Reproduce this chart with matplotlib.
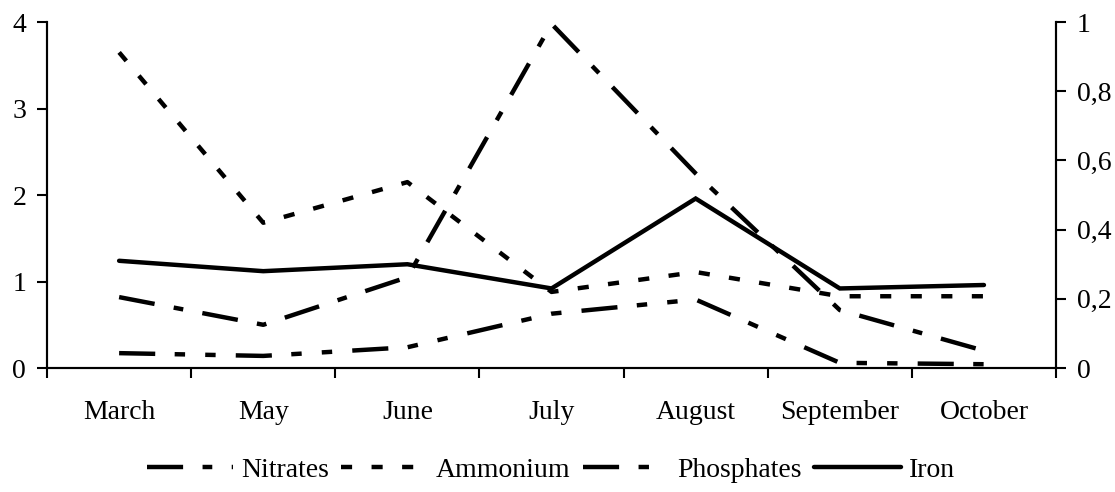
import numpy as np
import matplotlib
matplotlib.use("Agg")
import matplotlib.pyplot as plt
from matplotlib.ticker import FixedLocator, NullFormatter

plt.rcParams['font.family'] = ['Liberation Serif', 'DejaVu Serif']
plt.rcParams['lines.scale_dashes'] = False

months = ['March', 'May', 'June', 'July', 'August', 'September', 'October']
# left axis
nitrates = [0.82, 0.50, 1.05, 3.98, 2.25, 0.67, 0.20]
ammonium = [3.65, 1.68, 2.15, 0.88, 1.11, 0.83, 0.83]
# right axis
phosphates = [0.043, 0.035, 0.06, 0.157, 0.198, 0.015, 0.011]
iron = [0.31, 0.28, 0.30, 0.23, 0.49, 0.23, 0.24]

left_ticks = [0, 1, 2, 3, 4]
right_ticks = [0, 0.2, 0.4, 0.6, 0.8, 1]
right_labels = ['0', '0,2', '0,4', '0,6', '0,8', '1']

fs = 20
lw = 3.2

fig = plt.figure(figsize=(11.15, 4.92), dpi=100)
ax = fig.add_axes([0.0422, 0.252, 0.9049, 0.703])
ax2 = ax.twinx()

x = np.arange(len(months))

l1, = ax.plot(x, nitrates, color='black', lw=lw, dashes=(26, 14, 7, 14))
l2, = ax.plot(x, ammonium, color='black', lw=lw, dashes=(8, 14))
l3, = ax2.plot(x, phosphates, color='black', lw=lw, dashes=(26, 14, 7.5, 14.5, 7.5, 14.5))
l4, = ax2.plot(x, iron, color='black', lw=lw, solid_capstyle='round', solid_joinstyle='miter')

ax.set_xlim(-0.5, len(months) - 0.5)
ax.set_ylim(0, 4)
ax2.set_ylim(0, 1)

# category boundaries as tick marks, labels at centres
ax.xaxis.set_major_locator(FixedLocator(np.arange(-0.5, len(months))))
ax.xaxis.set_major_formatter(NullFormatter())
ax.xaxis.set_minor_locator(FixedLocator(x))
ax.set_xticklabels(months, minor=True)
ax.tick_params(axis='x', which='major', direction='out', length=7, width=1.5)
ax.tick_params(axis='x', which='minor', length=0, pad=23, labelsize=fs)

ax.set_yticks(left_ticks)
ax.set_yticklabels([str(t) for t in left_ticks])
ax.tick_params(axis='y', direction='out', length=7, width=1.5, pad=8, labelsize=fs)

ax2.set_yticks(right_ticks)
ax2.set_yticklabels(right_labels)
ax2.tick_params(axis='y', direction='out', length=7, width=1.5, pad=8, labelsize=fs)

for a in (ax, ax2):
    a.spines['top'].set_visible(False)
    for s in ('left', 'right', 'bottom'):
        a.spines[s].set_linewidth(1.5)

fig.legend([l1, l2, l3, l4], ['Nitrates', 'Ammonium', 'Phosphates', 'Iron'],
           loc='center', bbox_to_anchor=(0.494, 0.045), ncol=4, frameon=False,
           fontsize=fs, handlelength=3.1, handletextpad=0.3, columnspacing=0.45)

fig.savefig('out.png', dpi=100)
